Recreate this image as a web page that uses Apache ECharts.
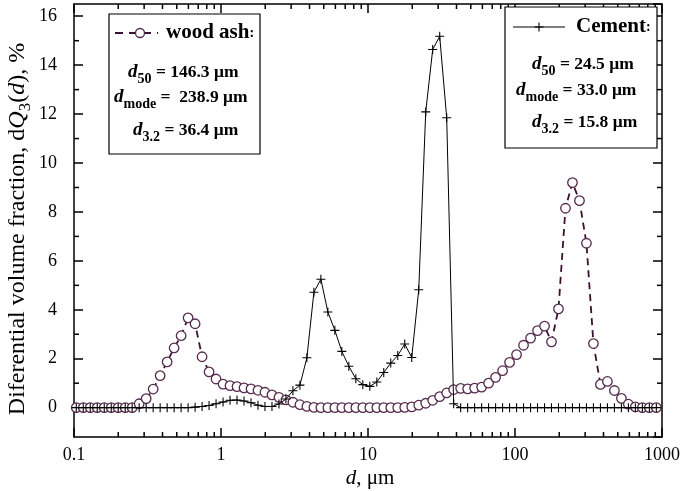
<!DOCTYPE html>
<html>
<head>
<meta charset="utf-8">
<title>Differential volume fraction</title>
<script src="https://cdn.jsdelivr.net/npm/echarts@6/dist/echarts.min.js"></script>
<style>
  html, body { margin: 0; padding: 0; background: #fff; }
  #main { width: 683px; height: 491px; }
</style>
</head>
<body>
<div id="main"></div>
<script>
// size classes of the analyser, µm (same classes for both samples)
var sizes = [
  0.1036, 0.1156, 0.1290, 0.1439, 0.1606, 0.1792, 0.1999, 0.2230, 0.2488, 0.2776, 0.3097,
  0.3456, 0.3855, 0.4301, 0.4799, 0.5354, 0.5974, 0.6665, 0.7436, 0.8296, 0.9255,
  1.033, 1.152, 1.285, 1.434, 1.600, 1.785, 1.991, 2.222, 2.479, 2.765, 3.085,
  3.442, 3.840, 4.285, 4.780, 5.333, 5.950, 6.639, 7.407, 8.263, 9.219,
  10.29, 11.48, 12.80, 14.28, 15.94, 17.78, 19.84, 22.14, 24.70, 27.55, 30.74,
  34.30, 38.26, 42.69, 47.63, 53.14, 59.29, 66.14, 73.80, 82.33, 91.86,
  102.5, 114.3, 127.6, 142.3, 158.8, 177.1, 197.6, 220.5, 246.0, 274.5, 306.2,
  341.6, 381.2, 425.3, 474.5, 529.4, 590.6, 658.9, 735.2, 820.2, 915.1
];

// dQ3(d), %
var woodAsh = [
  0, 0, 0, 0, 0, 0, 0, 0, 0,
  0.16, 0.37, 0.76, 1.31, 1.87, 2.44, 2.94, 3.67, 3.43, 2.08, 1.46, 1.17,
  0.96, 0.90, 0.86, 0.81, 0.77, 0.71, 0.63, 0.52, 0.42, 0.32, 0.22, 0.12, 0.05, 0.01,
  0, 0, 0, 0, 0, 0, 0, 0, 0, 0, 0, 0,
  0.01, 0.03, 0.10, 0.18, 0.30, 0.45, 0.60, 0.74, 0.79, 0.77, 0.80, 0.84, 1.00, 1.24, 1.51, 1.85,
  2.17, 2.55, 2.84, 3.15, 3.33, 2.69, 4.04, 8.15, 9.20, 8.46, 6.72, 2.62, 0.95, 1.07, 0.70,
  0.38, 0.14, 0.03, 0, 0, 0
];

var cement = [
  0, 0, 0, 0, 0, 0, 0, 0, 0, 0, 0, 0, 0, 0, 0, 0, 0,
  0.02, 0.05, 0.09, 0.16, 0.23, 0.30, 0.31, 0.27, 0.20, 0.10, 0.05, 0.05, 0.15, 0.35,
  0.69, 0.92, 2.04, 4.72, 5.25, 3.91, 3.16, 2.30, 1.69, 1.18,
  0.94, 0.87, 1.05, 1.44, 1.82, 2.13, 2.60, 2.05, 4.82, 12.09, 14.64, 15.18, 11.85, 0.16,
  0, 0, 0, 0, 0, 0, 0, 0, 0, 0, 0, 0, 0, 0, 0, 0, 0, 0, 0, 0, 0, 0, 0, 0, 0, 0, 0, 0, 0
];

var xDecades = [0.1, 1, 10, 100];       // minor ticks 2..9 inside each
var yMinor = [1, 3, 5, 7, 9, 11, 13, 15];

var ashStats = [['50', ' = 146.3 μm'], ['mode', ' =  238.9 μm'], ['3.2', ' = 36.4 μm']];
var cementStats = [['50', ' = 24.5 μm'], ['mode', ' = 33.0 μm'], ['3.2', ' = 15.8 μm']];

var serif = 'Liberation Serif';
var ashColor = '#552a4c';
var plus = 'path://M4.4,0H5.6V4.4H10V5.6H5.6V10H4.4V5.6H0V4.4H4.4Z';

var chart = echarts.init(document.getElementById('main'));

function pairs(vals) {
  return sizes.map(function (d, i) { return [d, vals[i]]; });
}

var frame = { color: '#000', width: 1.5 };

function xAxisOf(pos, labels) {
  return {
    type: 'log', logBase: 10, min: 0.1, max: 1000, position: pos,
    axisLine: { onZero: false, lineStyle: frame },
    axisTick: { inside: true, length: 9, lineStyle: frame },
    axisLabel: {
      show: labels, color: '#000', fontFamily: serif, fontSize: 18, margin: 9,
      formatter: function (v) { return String(+(+v).toPrecision(3)); }
    },
    splitLine: { show: false }
  };
}

function yAxisOf(pos, labels) {
  return {
    type: 'value', min: -1.2, max: 16.5, splitNumber: 9, position: pos,
    axisLine: { onZero: false, lineStyle: frame },
    axisTick: { inside: true, length: 9, lineStyle: frame },
    axisLabel: {
      show: labels, color: '#000', fontFamily: serif, fontSize: 18, margin: 17,
      showMinLabel: false, showMaxLabel: false
    },
    splitLine: { show: false }
  };
}

chart.setOption({
  animation: false,
  backgroundColor: '#fff',
  grid: { left: 74, right: 16, top: 4, bottom: 54 },
  xAxis: [xAxisOf('bottom', true), xAxisOf('top', false)],
  yAxis: [yAxisOf('left', true), yAxisOf('right', false)],
  series: [{
    name: 'wood ash',
    type: 'line',
    data: pairs(woodAsh),
    symbol: 'circle',
    symbolSize: 9.5,
    showAllSymbol: true,
    itemStyle: { color: '#fff', borderColor: ashColor, borderWidth: 1.3 },
    lineStyle: { color: '#3a1131', width: 1.8, type: [7, 5] },
    silent: true,
    z: 2
  }, {
    name: 'Cement',
    type: 'line',
    data: pairs(cement),
    symbol: plus,
    symbolSize: 9,
    showAllSymbol: true,
    itemStyle: { color: '#000' },
    lineStyle: { color: '#000', width: 1 },
    silent: true,
    z: 3
  }]
});

// extra drawing: minor ticks, legend boxes, axis titles
(function () {
  var px = function (v) { return chart.convertToPixel({ xAxisIndex: 0 }, v); };
  var py = function (v) { return chart.convertToPixel({ yAxisIndex: 0 }, v); };
  var yTop = py(16.5), yBot = py(-1.2), xLeft = px(0.1), xRight = px(1000);
  var g = [];

  function seg(x1, y1, x2, y2) {
    g.push({ type: 'line', silent: true, shape: { x1: x1, y1: y1, x2: x2, y2: y2 },
      style: { stroke: '#000', lineWidth: 1.5 } });
  }

  xDecades.forEach(function (dec) {
    for (var k = 2; k <= 9; k++) {
      var x = px(dec * k);
      seg(x, yBot, x, yBot - 5);
      seg(x, yTop, x, yTop + 5);
    }
  });
  yMinor.forEach(function (v) {
    var y = py(v);
    seg(xLeft, y, xLeft + 5, y);
    seg(xRight, y, xRight - 5, y);
  });

  var rich = {
    d: { fontFamily: serif, fontSize: 19, fontWeight: 'bold', fontStyle: 'italic', lineHeight: 28, verticalAlign: 'middle' },
    s: { fontFamily: serif, fontSize: 14, fontWeight: 'bold', lineHeight: 14, verticalAlign: 'bottom' },
    t: { fontFamily: serif, fontSize: 17.5, fontWeight: 'bold', lineHeight: 28, verticalAlign: 'middle' },
    h: { fontFamily: serif, fontSize: 21, fontWeight: 'bold', lineHeight: 28, verticalAlign: 'middle' },
    c: { fontFamily: serif, fontSize: 14, fontWeight: 'bold', lineHeight: 28, verticalAlign: 'middle' }
  };

  function text(x, y, str, vAlign) {
    return { type: 'text', x: x, y: y, silent: true, z: 11,
      style: { text: str, rich: rich, fill: '#000', align: 'left', verticalAlign: vAlign || 'top' } };
  }

  function box(x, y, w, h) {
    g.push({ type: 'rect', silent: true, z: 10, shape: { x: x, y: y, width: w, height: h },
      style: { fill: '#fff', stroke: '#000', lineWidth: 1.2 } });
  }

  function statLines(xs, ys, stats) {
    stats.forEach(function (s, i) {
      g.push(text(xs[i], ys[i], '{d|d}{s|' + s[0] + '}{t|' + s[1] + '}'));
    });
  }

  box(109, 14, 151, 140);
  g.push({ type: 'line', silent: true, z: 11, shape: { x1: 115, y1: 33, x2: 158, y2: 33 },
    style: { stroke: '#3a1131', lineWidth: 1.8, lineDash: [8, 6] } });
  g.push({ type: 'circle', silent: true, z: 12, shape: { cx: 140, cy: 33, r: 4.5 },
    style: { fill: '#fff', stroke: ashColor, lineWidth: 1.3 } });
  g.push(text(166, 33, '{h|wood ash}{c|:}', 'middle'));
  statLines([128, 114, 133], [58, 83, 116], ashStats);

  box(505, 7, 152, 141);
  g.push({ type: 'line', silent: true, z: 11, shape: { x1: 513, y1: 27, x2: 565, y2: 27 },
    style: { stroke: '#000', lineWidth: 1 } });
  g.push({ type: 'line', silent: true, z: 12, shape: { x1: 534.5, y1: 27, x2: 543.5, y2: 27 },
    style: { stroke: '#000', lineWidth: 1.1 } });
  g.push({ type: 'line', silent: true, z: 12, shape: { x1: 539, y1: 22.5, x2: 539, y2: 31.5 },
    style: { stroke: '#000', lineWidth: 1.1 } });
  g.push(text(576, 27, '{h|Cement}{c|:}', 'middle'));
  statLines([532, 516, 532], [50, 76, 108], cementStats);

  var titleRich = {
    n: { fontFamily: serif, fontSize: 21, lineHeight: 28, verticalAlign: 'middle' },
    i: { fontFamily: serif, fontSize: 21, fontStyle: 'italic', lineHeight: 28, verticalAlign: 'middle' },
    s: { fontFamily: serif, fontSize: 15, lineHeight: 15, verticalAlign: 'bottom' }
  };
  var yRich = {
    n: { fontFamily: serif, fontSize: 24, lineHeight: 32, verticalAlign: 'middle' },
    i: { fontFamily: serif, fontSize: 24, fontStyle: 'italic', lineHeight: 32, verticalAlign: 'middle' },
    s: { fontFamily: serif, fontSize: 17, lineHeight: 17, verticalAlign: 'bottom' }
  };
  g.push({ type: 'text', silent: true, x: 18, y: 229, rotation: Math.PI / 2,
    style: { text: '{n|Diferential volume fraction, d}{i|Q}{s|3}{n|(}{i|d}{n|), %}', rich: yRich,
      fill: '#000', align: 'center', verticalAlign: 'middle' } });
  g.push({ type: 'text', silent: true, x: 370, y: 478,
    style: { text: '{i|d}{n|, μm}', rich: titleRich, fill: '#000', align: 'center', verticalAlign: 'middle' } });

  chart.setOption({ graphic: g });
})();
</script>
</body>
</html>
